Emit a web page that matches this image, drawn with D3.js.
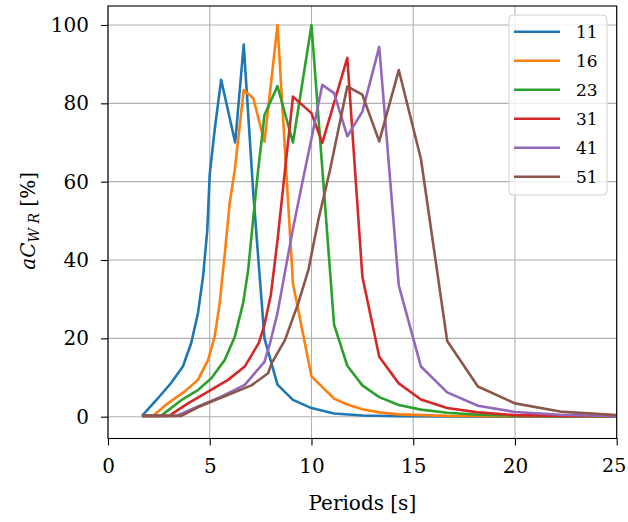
<!DOCTYPE html>
<meta charset="utf-8">
<title>aCWR vs period</title>
<style>
  body { margin: 0; background: #fff; }
  text { font-family: "DejaVu Serif", serif; fill: #000; }
  .grid line { stroke: #b0b0b0; stroke-width: 1.1; }
  .axis path, .axis line { stroke: #000; stroke-width: 1.1; }
</style>
<body>
<svg id="chart" width="628" height="522"></svg>
<script src="https://cdnjs.cloudflare.com/ajax/libs/d3/7.8.5/d3.min.js"></script>
<script>
// series names (legend)
const names = ["11", "16", "23", "31", "41", "51"];
const colors = ["#1f77b4", "#ff7f0e", "#2ca02c", "#d62728", "#9467bd", "#8c564b"];

// periods [s] and aCWR [%], one pair of arrays per series
const t11 = [1.67, 2.37, 3.1, 3.68, 4.09, 4.42, 4.67, 4.88, 5.0, 5.26, 5.56, 6.25, 6.67, 7.14, 7.69, 8.33, 9.09, 10, 11.11, 12.5, 14.29, 16.67, 20, 25];
const v11 = [0.2, 4.2, 8.6, 12.8, 18.8, 26.4, 35.7, 47.6, 62, 74, 86, 70, 95, 57, 20, 8.2, 4.3, 2.2, 0.8, 0.3, 0.1, 0.05, 0, 0];

const t16 = [1.67, 2.2, 2.94, 3.76, 4.42, 4.92, 5.24, 5.49, 5.74, 5.98, 6.23, 6.67, 7.14, 7.69, 8.33, 9.09, 10, 11.11, 11.76, 12.5, 13.33, 14.29, 16.67, 20, 25];
const v16 = [0.2, 0.2, 3.4, 6.4, 9.4, 14.5, 20.4, 29, 41.6, 54.5, 63, 83.4, 81.3, 70.2, 100, 34, 10.3, 4.6, 3.1, 1.9, 1.1, 0.6, 0.2, 0.1, 0.05];

const t23 = [1.67, 2.6, 3.6, 4.42, 5.08, 5.74, 6.23, 6.64, 6.89, 7.13, 7.38, 7.69, 8.33, 9.09, 10, 11.11, 11.76, 12.5, 13.33, 14.29, 15.38, 16.67, 18.18, 20, 22.22, 25];
const v23 = [0.2, 0.2, 4.2, 6.8, 9.8, 14.5, 20.4, 29, 37.5, 50.3, 63, 77, 84.4, 70, 100, 23.5, 13, 8, 5, 3, 1.8, 1, 0.5, 0.25, 0.1, 0.05];

const t31 = [1.67, 3.0, 3.93, 4.92, 5.9, 6.72, 7.41, 7.69, 8.0, 8.33, 8.7, 9.09, 10, 10.53, 11.76, 12.5, 13.33, 14.29, 15.38, 16.67, 18.18, 20, 22.22, 25];
const v31 = [0.2, 0.2, 3.4, 6.4, 9.4, 12.8, 18.8, 23.5, 31, 45, 63, 81.7, 77.5, 69.9, 91.6, 35.8, 15.3, 8.5, 4.4, 2.2, 1.1, 0.4, 0.2, 0.1];

const t41 = [1.67, 3.35, 4.42, 5.57, 6.72, 7.69, 8.0, 8.33, 8.7, 9.09, 9.52, 10, 10.53, 11.11, 11.76, 12.5, 13.33, 14.29, 15.38, 16.67, 18.18, 20, 22.22, 25];
const v41 = [0.2, 0.2, 2.6, 5.1, 8.1, 14, 19.5, 26.5, 37, 48, 59, 71, 84.7, 82.6, 71.6, 77.9, 94.4, 33.5, 12.8, 6.2, 2.8, 1.2, 0.5, 0.1];

const t51 = [1.67, 3.6, 4.42, 5.24, 6.06, 7.05, 7.87, 8.04, 8.7, 9.35, 9.85, 10.34, 10.91, 11.76, 12.5, 13.33, 14.29, 15.38, 16.67, 18.18, 20, 22.22, 25];
const v51 = [0.2, 0.2, 2.4, 4.2, 5.9, 8.0, 11.1, 13.6, 19.6, 29, 37.5, 50.3, 63, 84.3, 82.2, 70.3, 88.5, 65.8, 19.3, 7.7, 3.4, 1.3, 0.4];

const periodsAll = [t11, t16, t23, t31, t41, t51];
const valuesAll = [v11, v16, v23, v31, v41, v51];

const xTicks = [0, 5, 10, 15, 20, 25];
const yTicks = [0, 20, 40, 60, 80, 100];

const W = 628, H = 522;
const margin = {top: 6, right: 11.3, bottom: 83.5, left: 108};
const iw = W - margin.left - margin.right, ih = H - margin.top - margin.bottom;

const svg = d3.select("#chart");
const g = svg.append("g").attr("transform", `translate(${margin.left},${margin.top})`);

const x = d3.scaleLinear().domain([0, 25]).range([0, iw]);
const y = d3.scaleLinear().domain([-5.57, 104.85]).range([ih, 0]);

// grid
g.append("g").attr("class", "grid")
  .selectAll("line").data(xTicks).join("line")
  .attr("x1", d => x(d)).attr("x2", d => x(d)).attr("y1", 0).attr("y2", ih);
g.append("g").attr("class", "grid")
  .selectAll("line").data(yTicks).join("line")
  .attr("x1", 0).attr("x2", iw).attr("y1", d => y(d)).attr("y2", d => y(d));

// series
const line = d3.line().x(d => x(d[0])).y(d => y(d[1]));
const series = names.map((n, i) => ({name: n, color: colors[i],
  pts: periodsAll[i].map((t, j) => [t, valuesAll[i][j]])}));

g.append("g").selectAll("path").data(series).join("path")
  .attr("d", d => line(d.pts))
  .attr("fill", "none")
  .attr("stroke", d => d.color)
  .attr("stroke-width", 2.6)
  .attr("stroke-linejoin", "round");

// frame
g.append("rect").attr("width", iw).attr("height", ih)
  .attr("fill", "none").attr("stroke", "#000").attr("stroke-width", 1.1);

// axes
const xAxis = g.append("g").attr("class", "axis").attr("transform", `translate(0,${ih})`)
  .call(d3.axisBottom(x).tickValues(xTicks).tickSize(7).tickSizeOuter(0).tickPadding(13));
const yAxis = g.append("g").attr("class", "axis")
  .call(d3.axisLeft(y).tickValues(yTicks).tickSize(7).tickSizeOuter(0).tickPadding(12));
xAxis.select(".domain").remove();
yAxis.select(".domain").remove();
svg.selectAll(".axis text").style("font-size", "20px").style("font-family", '"DejaVu Serif", serif');
// last x label sits at the window edge; pull it in a little so it is not clipped
xAxis.selectAll(".tick text").filter(d => d === 25).attr("dx", -3).style("font-size", "19px");

// axis labels
svg.append("text")
  .attr("x", margin.left + iw / 2).attr("y", 510)
  .attr("text-anchor", "middle").style("font-size", "20px")
  .text("Periods [s]");

const yl = svg.append("text")
  .attr("transform", `translate(35,${margin.top + y(50)}) rotate(-90)`)
  .attr("text-anchor", "middle").style("font-size", "20px");
yl.append("tspan").style("font-style", "italic").text("aC");
yl.append("tspan").style("font-style", "italic").style("font-size", "14px").attr("dy", 4).text("W R");
yl.append("tspan").attr("dy", -4).text(" [%]");

// legend
const lg = svg.append("g").attr("transform", "translate(509,15)");
lg.append("rect").attr("width", 98).attr("height", 180).attr("rx", 4)
  .attr("fill", "#fff").attr("fill-opacity", 0.8).attr("stroke", "#d0d0d0").attr("stroke-width", 1);
const items = lg.selectAll("g.item").data(series).join("g")
  .attr("transform", (d, i) => `translate(0,${16.7 + i * 29})`);
items.append("line").attr("x1", 5).attr("x2", 51).attr("y1", 0).attr("y2", 0)
  .attr("stroke", d => d.color).attr("stroke-width", 2.6);
items.append("text").attr("x", 67).attr("y", 6.5).style("font-size", "17px").text(d => d.name);
</script>
</body>
